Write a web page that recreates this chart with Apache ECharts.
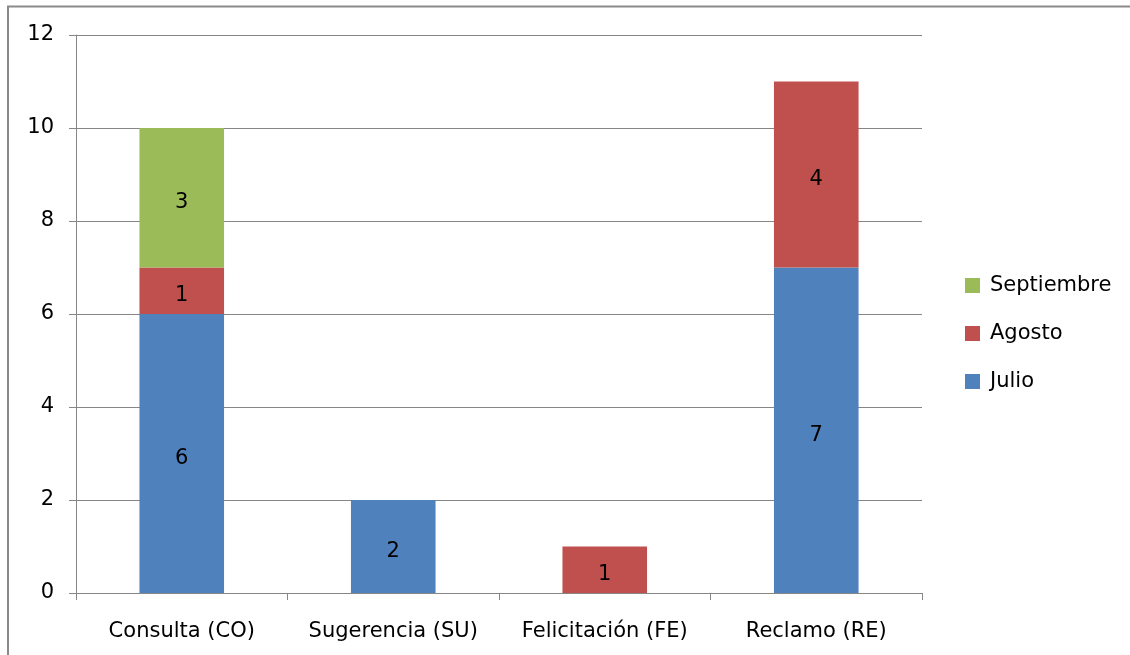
<!DOCTYPE html>
<html>
<head>
<meta charset="utf-8">
<script src="https://cdn.jsdelivr.net/npm/echarts@6/dist/echarts.min.js"></script>
<style>
  html, body { margin: 0; padding: 0; background: #ffffff; overflow: hidden; }
  #chart { width: 1130px; height: 655px; }
</style>
</head>
<body>
<div id="chart"></div>
<script>
// Request types and monthly counts
const categories = ['Consulta (CO)', 'Sugerencia (SU)', 'Felicitación (FE)', 'Reclamo (RE)'];
const julio = [6, 2, 0, 7];
const agosto = [1, 0, 1, 4];
const septiembre = [3, 0, 0, 0];
const legendOrder = ['Septiembre', 'Agosto', 'Julio'];

const FONT = '"DejaVu Sans", "Open Sans", sans-serif';
const FS = 21;
const GRAY = '#868686';

function barSeries(name, values, color) {
  return {
    name: name,
    type: 'bar',
    stack: 'total',
    barWidth: '40%',
    data: values.map(v => (v === 0 ? null : v)),
    itemStyle: { color: color },
    label: {
      show: true,
      position: 'inside',
      offset: [0, 5],
      color: '#000000',
      fontFamily: FONT,
      fontSize: FS,
      formatter: p => (p.value ? String(p.value) : '')
    },
    emphasis: { disabled: true }
  };
}

const chart = echarts.init(document.getElementById('chart'), null, { renderer: 'canvas' });
chart.setOption({
  animation: false,
  backgroundColor: '#ffffff',
  // outer frame: left and top edges
  graphic: [{
    type: 'polyline',
    shape: { points: [[8, 660], [8, 6.5], [1135, 6.5]] },
    style: { fill: null, stroke: '#8a8a8a', lineWidth: 2 },
    silent: true
  }],
  grid: { left: 76, right: 208, top: 35, bottom: 62, containLabel: false },
  legend: {
    orient: 'vertical',
    left: 960,
    top: 270,
    data: legendOrder,
    itemWidth: 15,
    itemHeight: 15,
    itemGap: 27,
    icon: 'rect',
    textStyle: { fontFamily: FONT, fontSize: FS, color: '#000000', padding: [0, 0, 0, 5] }
  },
  xAxis: {
    type: 'category',
    data: categories,
    axisLine: { lineStyle: { color: GRAY, width: 1 } },
    axisTick: { show: true, interval: 0, length: 7, alignWithLabel: false, lineStyle: { color: GRAY } },
    axisLabel: { interval: 0, hideOverlap: false, color: '#000000', fontFamily: FONT, fontSize: FS, margin: 28 }
  },
  yAxis: {
    type: 'value',
    min: 0,
    max: 12,
    interval: 2,
    axisLine: { show: true, lineStyle: { color: GRAY, width: 1 } },
    axisTick: { show: true, length: 7, lineStyle: { color: GRAY } },
    splitLine: { show: true, lineStyle: { color: GRAY, width: 1 } },
    axisLabel: { color: '#000000', fontFamily: FONT, fontSize: FS, margin: 22, padding: [4, 0, 0, 0] }
  },
  series: [
    barSeries('Julio', julio, '#4F81BD'),
    barSeries('Agosto', agosto, '#C0504D'),
    barSeries('Septiembre', septiembre, '#9BBB59')
  ]
});
</script>
</body>
</html>
